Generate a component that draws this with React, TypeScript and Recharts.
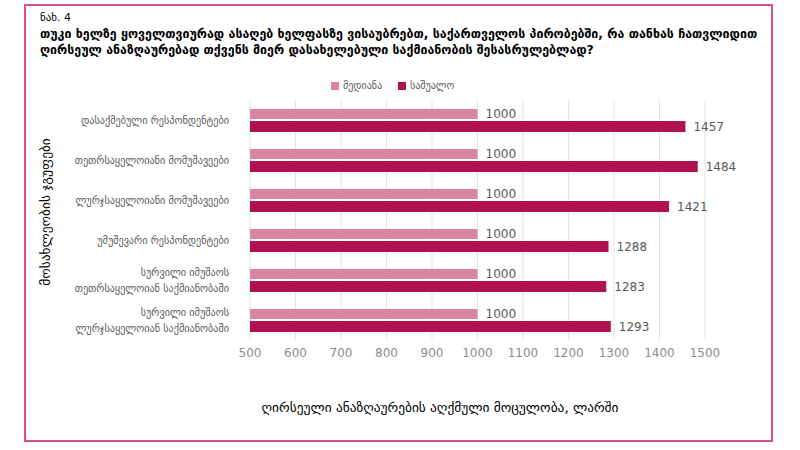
import React from 'react';
import { BarChart, Bar, XAxis, YAxis, CartesianGrid, Legend, LabelList, Label } from 'recharts';

const categories: string[][] = [
  ['დასაქმებული რესპონდენტები'],
  ['თეთრსაყელოიანი მომუშავეები'],
  ['ლურჯსაყელოიანი მომუშავეები'],
  ['უმუშევარი რესპონდენტები'],
  ['სურვილი იმუშაოს', 'თეთრსაყელოიან საქმიანობაში'],
  ['სურვილი იმუშაოს', 'ლურჯსაყელოიან საქმიანობაში'],
];
const medianValues = [1000, 1000, 1000, 1000, 1000, 1000];
const meanValues = [1457, 1484, 1421, 1288, 1283, 1293];
const xTicks = [500, 600, 700, 800, 900, 1000, 1100, 1200, 1300, 1400, 1500];
const seriesNames = { median: 'მედიანა', mean: 'საშუალო' };
const figureLabel = 'ნახ. 4';
const titleLines = [
  'თუკი ხელზე ყოველთვიურად ასაღებ ხელფასზე ვისაუბრებთ, საქართველოს პირობებში, რა თანხას ჩათვლიდით',
  'ღირსეულ ანაზღაურებად თქვენს მიერ დასახელებული საქმიანობის შესასრულებლად?',
];
const yTitle = 'მოსახლეობის ჯგუფები';
const xTitle = 'ღირსეული ანაზღაურების აღქმული მოცულობა, ლარში';

const data = categories.map((c, i) => ({
  name: c.join('\n'),
  median: medianValues[i],
  mean: meanValues[i],
}));

const FONT = '"DejaVu Sans", sans-serif';
const PINK = '#d984a0';
const DARK = '#b0124f';

const CategoryTick = (props: any) => {
  const { x, y, payload } = props;
  const lines = String(payload.value).split('\n');
  const lh = 16;
  const start = -((lines.length - 1) * lh) / 2;
  return (
    <g transform={`translate(${x},${y})`}>
      {lines.map((l: string, i: number) => (
        <text key={i} x={-13} y={start + i * lh} dy="0.35em" textAnchor="end" fill="#595959" fontSize={10.2} fontFamily={FONT}>
          {l}
        </text>
      ))}
    </g>
  );
};

const LegendContent = (props: any) => {
  const { payload } = props;
  return (
    <div style={{ display: 'flex', justifyContent: 'flex-start', paddingLeft: 331, fontFamily: FONT, fontSize: 10, color: '#595959' }}>
      {(payload || []).map((p: any, i: number) => (
        <div key={i} style={{ display: 'flex', alignItems: 'center', marginRight: 16 }}>
          <span style={{ display: 'inline-block', width: 8, height: 8, background: p.color, marginRight: 4 }} />
          <span>{p.value}</span>
        </div>
      ))}
    </div>
  );
};

export default function App() {
  return (
    <div style={{ position: 'absolute', left: 0, top: 0, width: 800, height: 450, background: '#fff', fontFamily: FONT }}>
      <div style={{ position: 'absolute', left: 24, top: 4, width: 749, height: 438, border: '2px solid #d6518a', boxSizing: 'border-box' }} />
      <div style={{ position: 'absolute', left: 40, top: 11, fontSize: 11, color: '#000' }}>{figureLabel}</div>
      <div style={{ position: 'absolute', left: 40, top: 26, fontSize: 12.4, fontWeight: 'bold', color: '#000', lineHeight: '16px', whiteSpace: 'nowrap' }}>
        {titleLines.map((t, i) => (
          <div key={i}>{t}</div>
        ))}
      </div>
      <div style={{ position: 'absolute', left: 0, top: 0 }}>
        <BarChart
          width={800}
          height={450}
          data={data}
          layout="vertical"
          margin={{ top: 100, right: 95, bottom: 80, left: 0 }}
          barGap={2}
          barCategoryGap={9}
        >
          <CartesianGrid horizontal={false} vertical={true} stroke="#e3e3e3" />
          <XAxis
            type="number"
            domain={[500, 1500]}
            ticks={xTicks}
            axisLine={false}
            tickLine={false}
            tick={{ fill: '#8c8c8c', fontSize: 12, fontFamily: FONT }}
            interval={0}
          >
            <Label
              content={() => (
                <text x={440} y={407} dy="0.35em" textAnchor="middle" fill="#000" fontSize={13.4} fontFamily={FONT}>
                  {xTitle}
                </text>
              )}
            />
          </XAxis>
          <YAxis type="category" dataKey="name" width={250} axisLine={false} tickLine={false} tick={<CategoryTick />} interval={0}>
            <Label
              content={() => (
                <text x={45} y={212} dy="0.35em" textAnchor="middle" fill="#000" fontSize={13.4} fontFamily={FONT} transform="rotate(-90,45,212)">
                  {yTitle}
                </text>
              )}
            />
          </YAxis>
          <Legend
            verticalAlign="middle"
            align="center"
            wrapperStyle={{ top: 80, left: 0, width: 800 }}
            content={<LegendContent />}
          />
          <Bar dataKey="median" name={seriesNames.median} fill={PINK} barSize={10} isAnimationActive={false}>
            <LabelList dataKey="median" position="right" offset={8} fill="#595959" fontSize={12} fontFamily={FONT} />
          </Bar>
          <Bar dataKey="mean" name={seriesNames.mean} fill={DARK} barSize={11} isAnimationActive={false}>
            <LabelList dataKey="mean" position="right" offset={8} fill="#595959" fontSize={12} fontFamily={FONT} />
          </Bar>
        </BarChart>
      </div>
    </div>
  );
}
